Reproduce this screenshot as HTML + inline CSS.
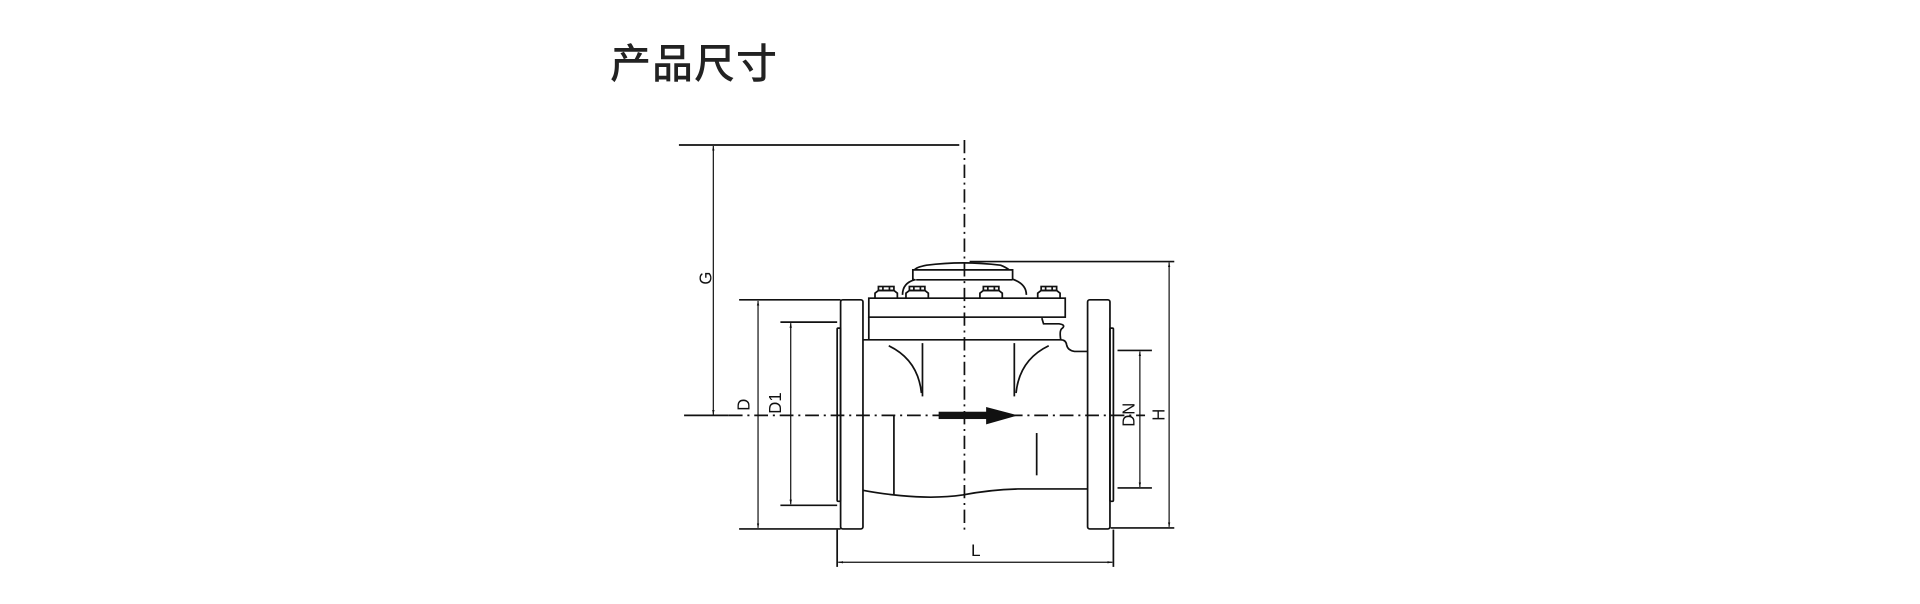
<!DOCTYPE html>
<html><head><meta charset="utf-8"><style>
html,body{margin:0;padding:0;background:#fff;}
body{width:1920px;height:604px;position:relative;overflow:hidden;}
.t{position:absolute;left:610px;top:30px;font-family:"Liberation Sans","Noto Sans CJK SC",sans-serif;font-size:41px;font-weight:500;color:#222;letter-spacing:1px;}
</style></head><body>
<div class="t">产品尺寸</div>
<svg width="1920" height="604" style="position:absolute;left:0;top:0">
<defs>
<marker id="a" viewBox="0 0 10 10" refX="10" refY="5" markerWidth="14" markerHeight="14" markerUnits="userSpaceOnUse" orient="auto-start-reverse"><path d="M0,2.5 L10,5 L0,7.5 z" fill="#111"/></marker>
</defs>
<g transform="translate(660,130) scale(0.344,0.333)" fill="none" stroke="#111" stroke-width="5">
<line x1="885" y1="30" x2="885" y2="1210" stroke-dasharray="40,14,6,14"/>
<line x1="70" y1="857" x2="200" y2="857"/>
<line x1="200" y1="857" x2="1410" y2="857" stroke-dasharray="40,14,6,14"/>
<line x1="55" y1="45" x2="870" y2="45"/>
<line x1="155" y1="48" x2="155" y2="855" marker-start="url(#a)" marker-end="url(#a)" stroke-width="3.5"/>
<line x1="230" y1="510" x2="525" y2="510"/>
<line x1="230" y1="1198" x2="525" y2="1198"/>
<line x1="285" y1="513" x2="285" y2="1195" marker-start="url(#a)" marker-end="url(#a)" stroke-width="3.5"/>
<line x1="350" y1="577" x2="515" y2="577"/>
<line x1="350" y1="1127" x2="515" y2="1127"/>
<line x1="380" y1="580" x2="380" y2="1124" marker-start="url(#a)" marker-end="url(#a)" stroke-width="3.5"/>
<rect x="525" y="510" width="65" height="688" rx="6"/>
<rect x="515" y="595" width="10" height="520" rx="3"/>
<rect x="1243" y="510" width="65" height="688" rx="6"/>
<rect x="1308" y="595" width="10" height="520" rx="3"/>
<rect x="607" y="505" width="571" height="57"/>
<path d="M607,562 L607,630 M590,630 L1165,630 Q1180,630 1182,645 Q1185,662 1205,665 L1243,665"/>
<path d="M1165,630 Q1160,600 1170,595 Q1180,585 1160,582 L1115,582 L1110,565"/>
<path d="M590,1082 Q640,1092 700,1098 Q800,1108 880,1096 Q960,1080 1040,1078 L1243,1078"/>
<line x1="680" y1="857" x2="680" y2="1095"/>
<line x1="1095" y1="910" x2="1095" y2="1037"/>
<line x1="763" y1="640" x2="763" y2="800"/>
<path d="M665,648 Q750,690 760,790"/>
<line x1="1030" y1="640" x2="1030" y2="800"/>
<path d="M1130,648 Q1045,690 1035,790"/>
<rect x="810" y="846" width="145" height="22" fill="#111" stroke="none"/>
<path d="M948,832 L1040,857 L948,884 z" fill="#111" stroke="none"/>
<path d="M705,495 Q705,460 740,450 L735,448 L735,420 L1025,420 L1025,448 Q1065,462 1065,495"/>
<path d="M740,420 Q745,412 775,406 Q880,392 990,406 Q1005,412 1015,420"/>
<line x1="745" y1="450" x2="1025" y2="450"/>
<g id="b"><path d="M625,505 L625,490 L635,482 L680,482 L690,490 L690,505"/><rect x="635" y="470" width="45" height="12"/><line x1="648" y1="470" x2="648" y2="482"/><line x1="667" y1="470" x2="667" y2="482"/></g>
<use href="#b" transform="translate(90,0)"/>
<use href="#b" transform="translate(305,0)"/>
<use href="#b" transform="translate(473,0)"/>
<line x1="900" y1="395" x2="1495" y2="395"/>
<line x1="1310" y1="1195" x2="1495" y2="1195"/>
<line x1="1480" y1="398" x2="1480" y2="1192" marker-start="url(#a)" marker-end="url(#a)" stroke-width="3.5"/>
<line x1="1330" y1="662" x2="1430" y2="662"/>
<line x1="1330" y1="1075" x2="1430" y2="1075"/>
<line x1="1395" y1="665" x2="1395" y2="1072" marker-start="url(#a)" marker-end="url(#a)" stroke-width="3.5"/>
<line x1="515" y1="1200" x2="515" y2="1312"/>
<line x1="1318" y1="1200" x2="1318" y2="1312"/>
<line x1="518" y1="1298" x2="1315" y2="1298" marker-start="url(#a)" marker-end="url(#a)" stroke-width="3.5"/>
<g fill="#111" stroke="none" font-family="Liberation Sans,sans-serif" font-size="50">
<text transform="translate(150,445) rotate(-90)" text-anchor="middle">G</text>
<text transform="translate(260,825) rotate(-90)" text-anchor="middle">D</text>
<text transform="translate(352,820) rotate(-90)" text-anchor="middle">D1</text>
<text transform="translate(1380,855) rotate(-90)" text-anchor="middle">DN</text>
<text transform="translate(1466,855) rotate(-90)" text-anchor="middle">H</text>
<text x="918" y="1280" text-anchor="middle">L</text>
</g>
</g>
</svg>
</body></html>
